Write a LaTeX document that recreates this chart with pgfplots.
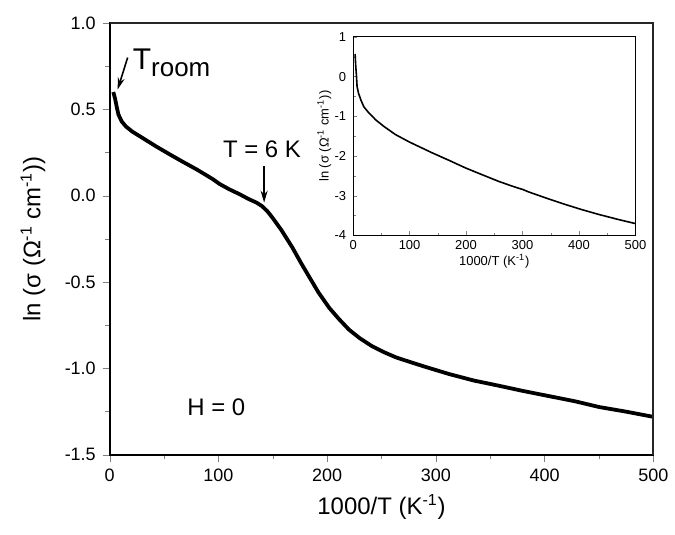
\documentclass[border=0pt]{standalone}
\usepackage{pgfplots}
\pgfplotsset{compat=1.18}
\usepackage{fontspec}
\setmainfont{Liberation Sans}
\usetikzlibrary{calc,arrows.meta}

\begin{document}
\begin{tikzpicture}
\begin{axis}[
  name=main,
  scale only axis,
  width=272.5pt, height=216.5pt,
  xmin=0, xmax=500, ymin=-1.5, ymax=1.0,
  clip=false,
  xtick={0,100,...,500}, minor x tick num=1,
  ytick={-1.5,-1,...,1}, minor y tick num=1,
  xtick pos=left, ytick pos=left,
  tick align=outside,
  major tick length=3.5pt, minor tick length=2.2pt,
  axis line style={line width=0.9pt},
  /pgf/number format/assume math mode=true,
  tick label style={font=\fontsize{9}{10}\selectfont},
  yticklabel style={/pgf/number format/fixed,/pgf/number format/fixed zerofill,/pgf/number format/precision=1},
  xlabel={1000/T (K\textsuperscript{-1})},
  ylabel={ln (σ (Ω\textsuperscript{-1} cm\textsuperscript{-1}))},
  label style={font=\fontsize{12}{14}\selectfont},
  xlabel style={at={(axis description cs:0.5,-0.12)}, anchor=center},
  ylabel style={at={(axis description cs:-0.141,0.5)}, anchor=center},
]
\addplot[black, line width=1.9pt] coordinates {
(3.3,0.60) (5,0.56) (6.4,0.515) (8,0.47) (11,0.43) (15,0.40) (21,0.37)
(30,0.335) (43,0.284) (55,0.24) (67,0.197) (80,0.152) (89,0.118) (95,0.095)
(101,0.068) (110,0.037) (119,0.01) (128,-0.02) (135,-0.04) (140,-0.06)
(145,-0.09) (150,-0.13) (158,-0.20) (168,-0.30) (176,-0.39) (183.5,-0.47)
(192,-0.56) (202,-0.65) (211,-0.715) (220,-0.775) (230,-0.825) (241,-0.87)
(252,-0.905) (263,-0.935) (275,-0.96) (290,-0.99) (312,-1.032) (335,-1.07)
(358,-1.10) (380,-1.13) (404,-1.16) (428,-1.19) (450,-1.223) (475,-1.25)
(500,-1.28)
};
\draw[-{Stealth[length=6pt,width=3.5pt]}, line width=0.8pt]
  (axis cs:16.5,0.80) -- (axis cs:7.3,0.615);
\node[anchor=base west, font=\fontsize{15}{17}\selectfont, inner sep=0pt]
  at (axis cs:21,0.729) {T\raisebox{-3.5pt}{\fontsize{13}{15}\selectfont room}};
\draw[-{Stealth[length=6pt,width=3.5pt]}, line width=0.8pt]
  (axis cs:142,0.17) -- (axis cs:142,-0.04);
\node[anchor=base, font=\fontsize{12}{14}\selectfont, inner sep=0pt]
  at (axis cs:140,0.22) {T = 6 K};
\node[anchor=base, font=\fontsize{12}{14}\selectfont, inner sep=0pt]
  at (axis cs:98,-1.275) {H = 0};
\end{axis}
\draw[line width=1pt, black!85] (main.north west) -- (main.north east) -- (main.south east);

\begin{axis}[
  at={($(main.south west)+(122pt,110pt)$)}, anchor=south west,
  scale only axis,
  width=141.5pt, height=99.5pt,
  xmin=0, xmax=500, ymin=-4, ymax=1,
  xtick={0,100,...,500}, minor x tick num=1,
  ytick={-4,-3,...,1}, minor y tick num=1,
  xtick pos=left, ytick pos=left,
  tick align=inside,
  major tick length=2pt, minor tick length=1.3pt,
  axis line style={line width=0.6pt},
  /pgf/number format/assume math mode=true,
  tick label style={font=\fontsize{6.5}{7.5}\selectfont},
  xticklabel style={yshift=1pt},
  xlabel={1000/T (K\textsuperscript{-1})},
  ylabel={ln (σ (Ω\textsuperscript{-1} cm\textsuperscript{-1}))},
  label style={font=\fontsize{6.5}{7.5}\selectfont},
  xlabel style={at={(axis description cs:0.5,-0.131)}, anchor=center},
  ylabel style={at={(axis description cs:-0.102,0.5)}, anchor=center},
]
\addplot[black, line width=0.8pt] coordinates {
(3.5,0.57) (4.5,0.3) (6,0.0) (7,-0.25) (9.4,-0.41) (13.5,-0.58) (19,-0.76)
(27,-0.90) (34,-1.0) (40,-1.09) (55,-1.26) (75,-1.46) (100,-1.65)
(140,-1.92) (170,-2.11) (199,-2.3) (230,-2.48) (258,-2.64) (280,-2.75)
(295,-2.82) (300,-2.84) (310,-2.90) (340,-3.05) (375.6,-3.22) (405,-3.35)
(434.6,-3.47) (470,-3.60) (499.5,-3.70)
};
\end{axis}
\path (main.south west) ++(-55pt,-40pt) rectangle ++(337.5pt,268pt);
\end{tikzpicture}
\end{document}
